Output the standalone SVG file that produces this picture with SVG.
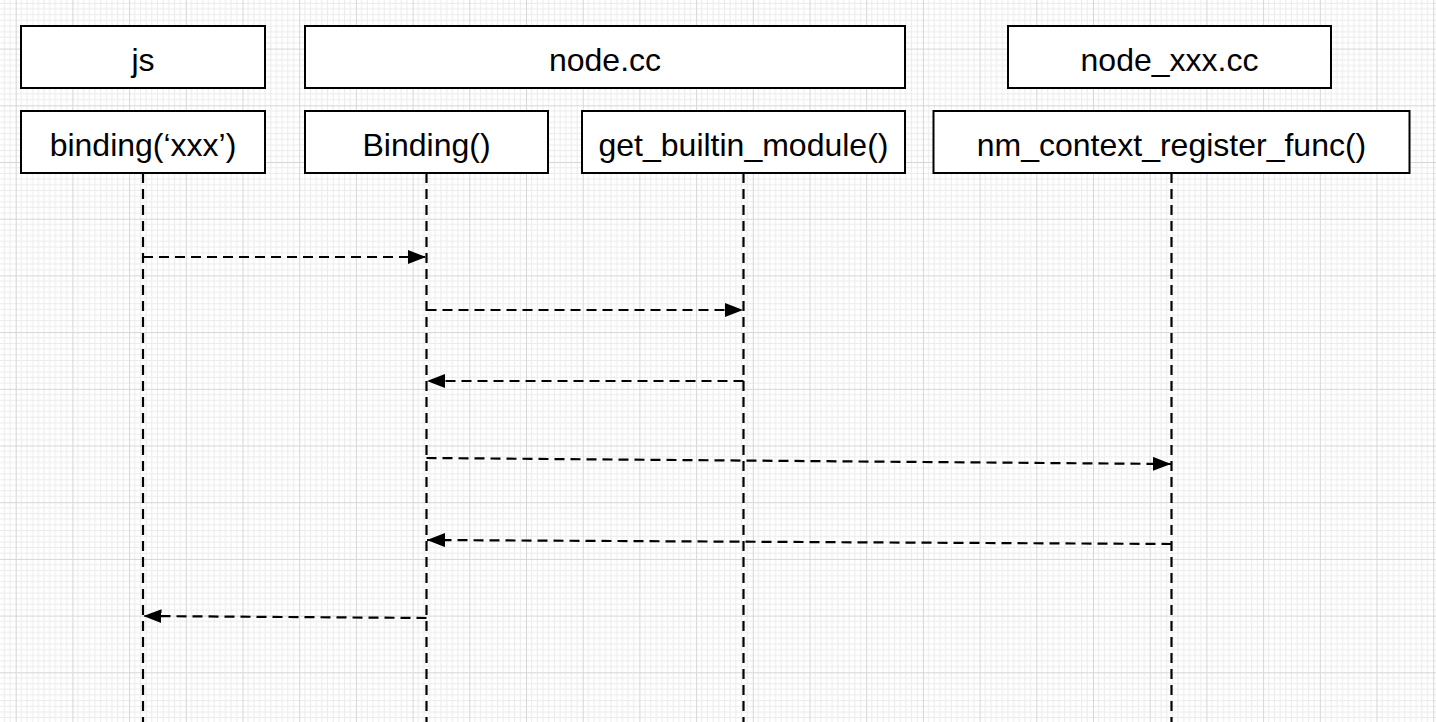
<svg xmlns="http://www.w3.org/2000/svg" width="1436" height="722" viewBox="0 0 1436 722">
  <style>
    .box { fill: #ffffff; stroke: #000000; stroke-width: 2; }
    .lbl { font-family: "Liberation Sans", Helvetica, Arial, sans-serif; font-size: 32px; fill: #000000; text-anchor: middle; }
    .life { stroke: #000000; stroke-width: 2.2; stroke-dasharray: 10 6; fill: none; }
    .msg { stroke: #000000; stroke-width: 2.2; stroke-dasharray: 10 6; fill: none; marker-end: url(#arrow); }
  </style>
  <defs>
    <pattern id="grid" patternUnits="userSpaceOnUse" x="15.7" y="48.6" width="56.7" height="56.7">
      <g stroke="#ebebeb" stroke-width="1">
        <path d="M5.67 0V56.7M11.34 0V56.7M17.01 0V56.7M22.68 0V56.7M28.35 0V56.7M34.02 0V56.7M39.69 0V56.7M45.36 0V56.7M51.03 0V56.7"/>
        <path d="M0 5.67H56.7M0 11.34H56.7M0 17.01H56.7M0 22.68H56.7M0 28.35H56.7M0 34.02H56.7M0 39.69H56.7M0 45.36H56.7M0 51.03H56.7"/>
      </g>
      <path d="M0.5 0V56.7M0 0.5H56.7" stroke="#d6d6d6" stroke-width="1"/>
    </pattern>
    <marker id="arrow" markerUnits="userSpaceOnUse" markerWidth="19" markerHeight="15" refX="18" refY="7" orient="auto">
      <path d="M0,0 L18,7 L0,14 Z" fill="#000000"/>
    </marker>
  </defs>

  <rect x="0" y="0" width="1436" height="722" fill="#ffffff"/>
  <rect x="0" y="0" width="1436" height="722" fill="url(#grid)"/>

  <g id="group-js">
    <rect class="box" x="21" y="26" width="244" height="62"/>
    <text class="lbl" x="143" y="70.5">js</text>
  </g>
  <g id="group-node-cc">
    <rect class="box" x="305" y="26" width="600" height="62"/>
    <text class="lbl" x="605" y="70.5">node.cc</text>
  </g>
  <g id="group-node-xxx-cc">
    <rect class="box" x="1008" y="26" width="323" height="62"/>
    <text class="lbl" x="1169.5" y="70.5">node_xxx.cc</text>
  </g>

  <g id="node-binding-js">
    <line class="life" x1="143" y1="173" x2="143" y2="722"/>
    <rect class="box" x="21" y="111" width="244" height="62"/>
    <text class="lbl" x="143" y="155.5">binding(‘xxx’)</text>
  </g>
  <g id="node-Binding">
    <line class="life" x1="426.5" y1="173" x2="426.5" y2="722"/>
    <rect class="box" x="305" y="111" width="243" height="62"/>
    <text class="lbl" x="426.5" y="155.5">Binding()</text>
  </g>
  <g id="node-get-builtin-module">
    <line class="life" x1="743.5" y1="173" x2="743.5" y2="722"/>
    <rect class="box" x="582" y="111" width="323" height="62"/>
    <text class="lbl" x="743.5" y="155.5">get_builtin_module()</text>
  </g>
  <g id="node-nm-context-register-func">
    <line class="life" x1="1171.5" y1="173" x2="1171.5" y2="722"/>
    <rect class="box" x="933.5" y="111" width="476" height="62"/>
    <text class="lbl" x="1171.5" y="155.5">nm_context_register_func()</text>
  </g>

  <g id="connectors">
    <path class="msg" d="M143 257 L426 257"/>
    <path class="msg" d="M426.5 310 L743 310"/>
    <path class="msg" d="M743.5 381 L427 381"/>
    <path class="msg" d="M426.5 458 L1171 464"/>
    <path class="msg" d="M1171.5 544 L427 540"/>
    <path class="msg" d="M426.5 618 L143.5 616"/>
  </g>
</svg>
